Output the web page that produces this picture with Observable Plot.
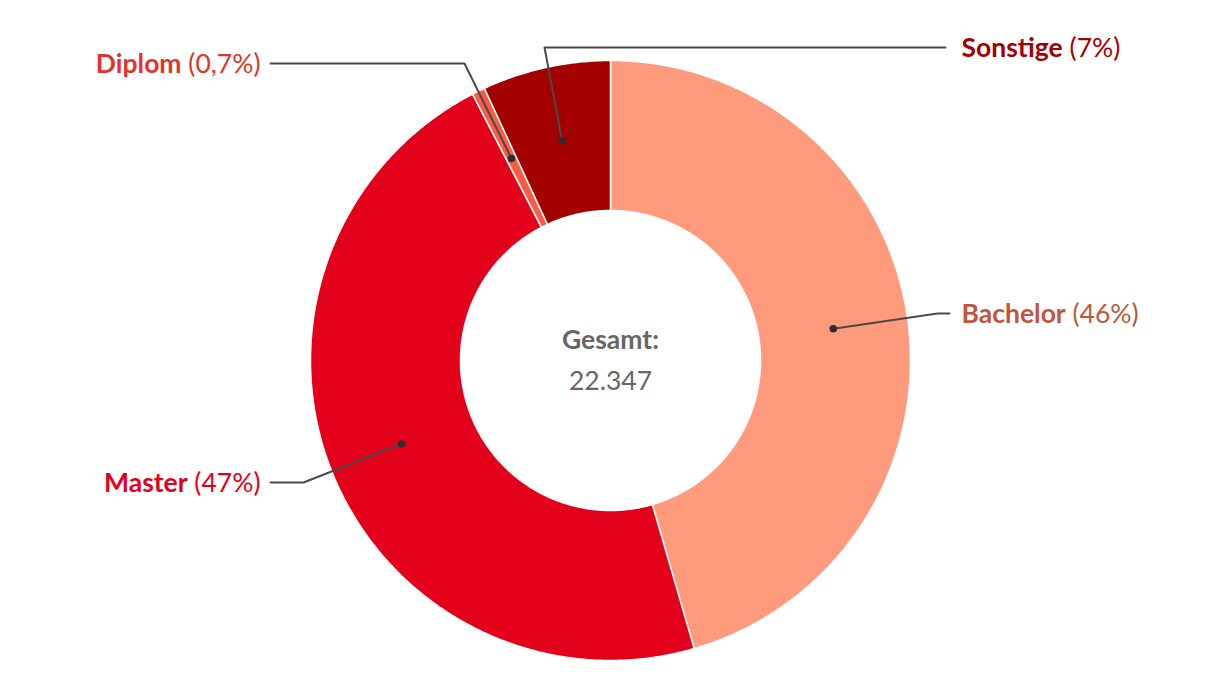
<!DOCTYPE html>
<html>
<head>
<meta charset="utf-8">
<script src="https://cdn.jsdelivr.net/npm/d3@7"></script>
<script src="https://cdn.jsdelivr.net/npm/@observablehq/plot@0.6"></script>
<style>
  html, body { margin: 0; padding: 0; background: #fff; }
  #chart { width: 1220px; height: 700px; }
</style>
</head>
<body>
<div id="chart"></div>
<script>
// ---- data ----
const categories = ["Bachelor", "Master", "Diplom", "Sonstige"];
const counts = [10168, 10480, 156, 1543];
const pctLabels = ["(46%)", "(47%)", "(0,7%)", "(7%)"];
const sliceColors = ["#ff9a7c", "#e2001a", "#fa5b45", "#a30000"];
const labelColors = ["#c0573d", "#e2001a", "#e0352c", "#a30000"];
const totalTitle = "Gesamt:";
const totalLabel = "22.347";

// ---- layout (pixels) ----
const W = 1220, H = 700;
const CX = 610, CY = 360, R_OUT = 300, R_IN = 150, R_DOT = 225;
const FONT = "Lato, 'Open Sans', sans-serif";
const FS = 26.5;
// label placement per category: side, elbow, end and baseline y (px)
const labelLayout = {
  Bachelor: {side: "right", elbowX: 937, elbowY: 313, endX: 949, textX: 961},
  Master:   {side: "left",  elbowX: 303, elbowY: 482, endX: 270, textX: 260},
  Diplom:   {side: "left",  elbowX: 464, elbowY: 63,  endX: 270, textX: 260},
  Sonstige: {side: "right", elbowX: 544, elbowY: 47,  endX: 945, textX: 961}
};

// unit space: radius 1 = R_OUT px
const u = R_OUT;
const toUx = px => (px - CX) / u;
const toUy = py => (py - CY) / u;

const pie = d3.pie().sort(null).value(d => d)(counts);
const pt = (a, r) => [r * Math.sin(a), -r * Math.cos(a)];

const polys = [];
pie.forEach((p, i) => {
  const a0 = p.startAngle, a1 = p.endAngle;
  const n = Math.max(2, Math.ceil((a1 - a0) / (Math.PI / 360)));
  const pts = [];
  for (let k = 0; k <= n; k++) pts.push(pt(a0 + (a1 - a0) * k / n, 1));
  for (let k = n; k >= 0; k--) pts.push(pt(a0 + (a1 - a0) * k / n, R_IN / R_OUT));
  pts.push(pts[0]);
  pts.forEach(([x, y]) => polys.push({cat: categories[i], x, y, color: sliceColors[i]}));
});

// leader lines
const leaders = [];
const dots = [];
pie.forEach((p, i) => {
  const c = categories[i];
  const L = labelLayout[c];
  const mid = (p.startAngle + p.endAngle) / 2;
  const [dx, dy] = pt(mid, R_DOT / R_OUT);
  dots.push({x: dx, y: dy});
  leaders.push({cat: c, x: dx, y: dy});
  leaders.push({cat: c, x: toUx(L.elbowX), y: toUy(L.elbowY)});
  leaders.push({cat: c, x: toUx(L.endX), y: toUy(L.elbowY)});
});

// text measurement
const ctx = document.createElement("canvas").getContext("2d");
function tw(t, weight) { ctx.font = `${weight} ${FS}px ${FONT}`; return ctx.measureText(t).width; }
const gap = tw(" ", "normal");

const names = [], pcts = [];
categories.forEach((c, i) => {
  const L = labelLayout[c];
  const y = toUy(L.elbowY + 1);
  if (L.side === "right") {
    names.push({t: c, x: toUx(L.textX), y, color: labelColors[i], anchor: "start"});
    pcts.push({t: pctLabels[i], x: toUx(L.textX + tw(c, "bold") + gap), y, color: labelColors[i], anchor: "start"});
  } else {
    pcts.push({t: pctLabels[i], x: toUx(L.textX), y, color: labelColors[i], anchor: "end"});
    names.push({t: c, x: toUx(L.textX - tw(pctLabels[i], "normal") - gap), y, color: labelColors[i], anchor: "end"});
  }
});
const rightNames = names.filter(d => d.anchor === "start"), leftNames = names.filter(d => d.anchor === "end");
const rightPcts = pcts.filter(d => d.anchor === "start"), leftPcts = pcts.filter(d => d.anchor === "end");

const chart = Plot.plot({
  width: W, height: H,
  margin: 0,
  x: {domain: [toUx(0), toUx(W)], range: [0, W], axis: null},
  y: {domain: [toUy(0), toUy(H)], range: [0, H], axis: null},
  color: {type: "identity"},
  style: {fontFamily: FONT, background: "#fff"},
  marks: [
    Plot.line(polys, {x: "x", y: "y", z: "cat", fill: "color", stroke: "#fff", strokeWidth: 1.5, curve: "linear"}),
    Plot.line(leaders, {x: "x", y: "y", z: "cat", stroke: "#4a4a4a", strokeWidth: 2, curve: "linear"}),
    Plot.dot(dots, {x: "x", y: "y", r: 3.8, fill: "#2e2e2e"}),
    Plot.text(rightNames, {x: "x", y: "y", text: "t", fill: "color", textAnchor: "start", fontWeight: "bold", fontSize: FS, lineAnchor: "middle"}),
    Plot.text(rightPcts, {x: "x", y: "y", text: "t", fill: "color", textAnchor: "start", fontWeight: "normal", fontSize: FS, lineAnchor: "middle"}),
    Plot.text(leftNames, {x: "x", y: "y", text: "t", fill: "color", textAnchor: "end", fontWeight: "bold", fontSize: FS, lineAnchor: "middle"}),
    Plot.text(leftPcts, {x: "x", y: "y", text: "t", fill: "color", textAnchor: "end", fontWeight: "normal", fontSize: FS, lineAnchor: "middle"}),
    Plot.text([totalTitle], {x: () => 0, y: () => toUy(340), text: d => d, fill: "#666", fontWeight: "bold", fontSize: FS, lineAnchor: "middle"}),
    Plot.text([totalLabel], {x: () => 0, y: () => toUy(381), text: d => d, fill: "#666", fontWeight: "normal", fontSize: FS, lineAnchor: "middle"})
  ]
});
document.getElementById("chart").appendChild(chart);
</script>
</body>
</html>
